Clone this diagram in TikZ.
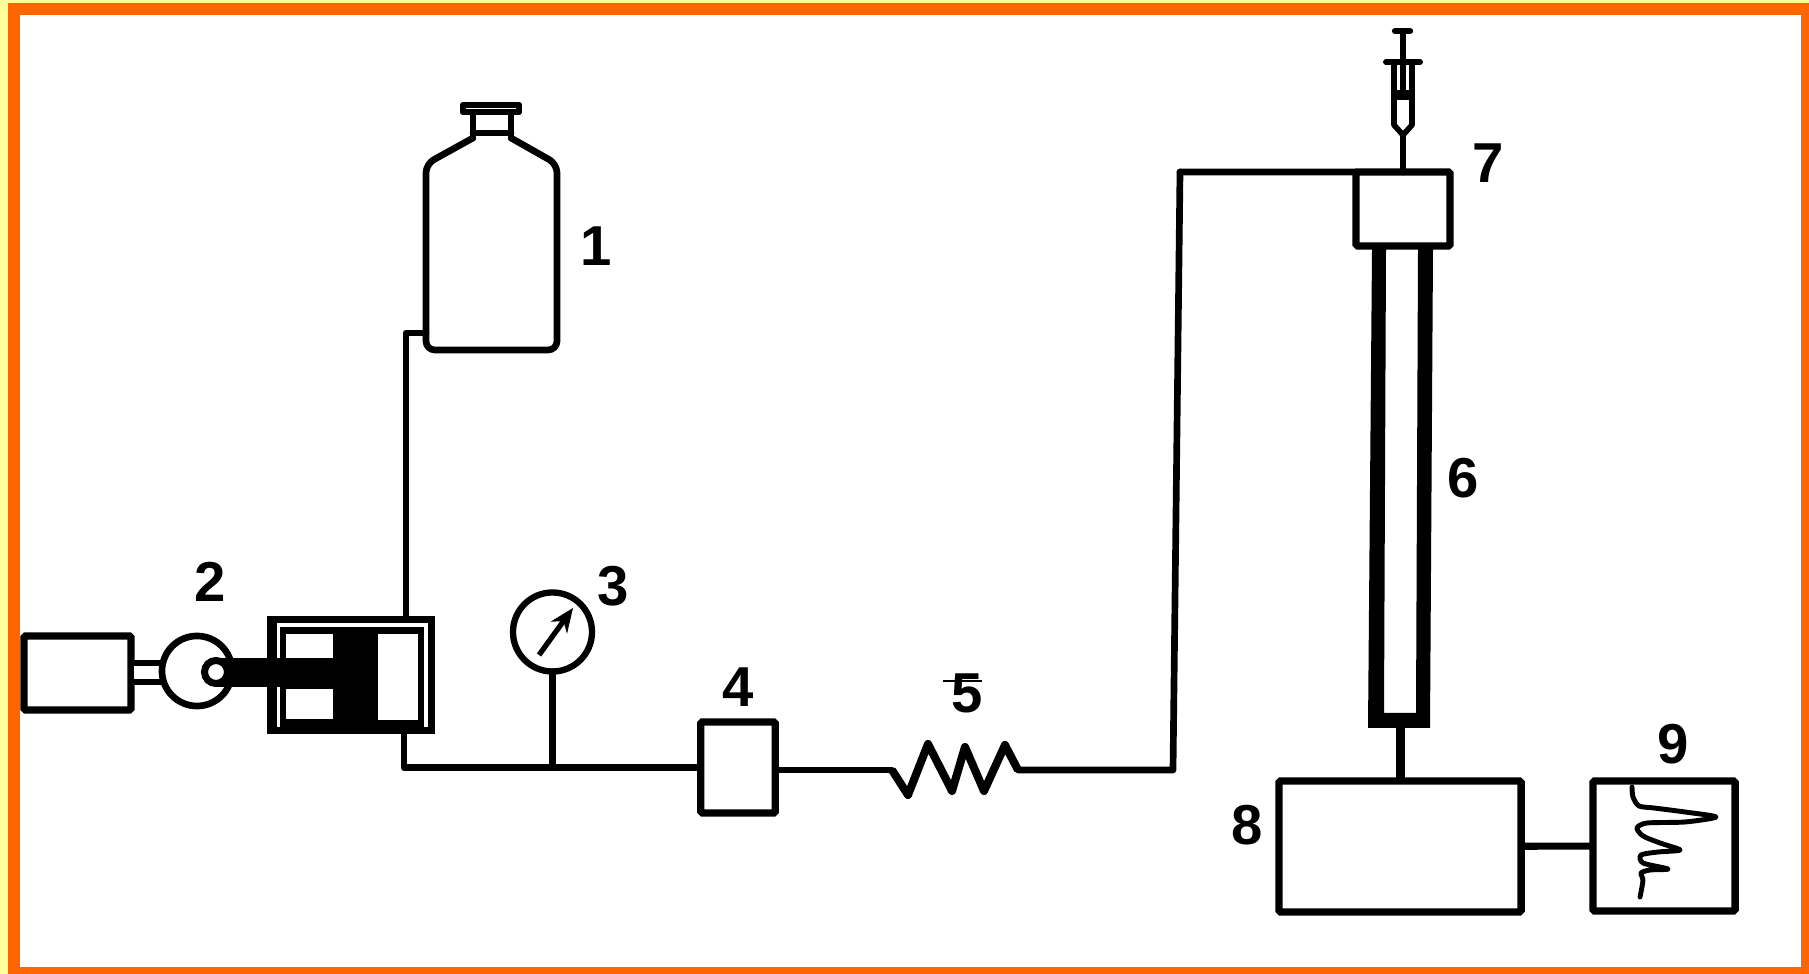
\documentclass[tikz,border=0pt]{standalone}
\usepackage{fontspec}
\setmainfont{Liberation Sans}
\usetikzlibrary{positioning,arrows.meta}
\definecolor{rimyellow}{HTML}{FFFF99}
\definecolor{rimorange}{HTML}{FF6600}
\tikzset{
  pipe/.style={line width=1.9pt,line join=round,line cap=round},
  thinpipe/.style={line width=1.6pt,line join=round,line cap=round},
  unitbox/.style={draw,line width=2.1pt,rectangle,inner sep=0pt,outer sep=0pt,rounded corners=0.5pt},
  numlabel/.style={font=\fontsize{16}{16}\selectfont\bfseries,inner sep=0pt,outer sep=0pt},
}

\begin{document}
\begin{tikzpicture}[x=0.01cm,y=-0.01cm]
  % frame
  \fill [rimyellow] (0,0) rectangle (1809,974);
  \fill [rimorange] (8,3) rectangle (1809,974);
  \fill [white] (20,15) rectangle (1801,967);
  \useasboundingbox (0,0) rectangle (1809,974);

  % pump
  \node [unitbox,minimum width=1.07cm,minimum height=0.74cm] (motor) at (77.5,673) {};
  \node [draw,line width=1.9pt,fill=white,minimum width=0.34cm,minimum height=0.19cm,inner sep=0pt] (shaft) at (148,672.5) {};
  \node [circle,draw,line width=1.9pt,fill=white,minimum size=0.70cm,inner sep=0pt] (wheel) at (197,671) {};
  \node [fill=black,minimum width=1.68cm,minimum height=1.18cm,inner sep=0pt,outer sep=0pt] (cyl) at (351,675) {};
  \fill [white] (277,623) rectangle (428,727);
  \fill (280,627) rectangle (424,734);
  \fill [white] (286,634) rectangle (333,659);
  \fill [white] (286,689) rectangle (333,719);
  \fill [white] (378,634) rectangle (418,720);
  \fill (216,658) rectangle (340,687);
  \node [circle,draw,line width=2pt,fill=white,minimum size=0.23cm,inner sep=0pt] (pin) at (216,672) {};
  \node [numlabel] (lab2) at (210,582) {2};

  % bottle
  \draw [pipe,rounded corners=2.5pt] (473,138) -- (426,164) -- (426,350) -- (557,350) -- (557,164) -- (511,138);
  \draw [pipe] (473,138) -- (473,112);
  \draw [pipe] (511,138) -- (511,112);
  \draw [pipe] (473,133) -- (511,133);
  \draw [pipe,fill=white] (463,105) rectangle (519,112);
  \node [numlabel] (lab1) at (596,246) {1};
  \coordinate (bottle_helper) at (426,333);    % helper
  \coordinate (cyl_top_helper) at (406,616);   % helper
  \draw [pipe] (cyl_top_helper) |- (bottle_helper);

  % gauge
  \node [circle,draw,line width=1.8pt,minimum size=0.79cm,inner sep=0pt,outer sep=0pt] (gauge) at (552.5,632) {};
  \node [numlabel] (lab3) at (613,586) {3};
  \coordinate (needle_a) at (539,655);
  \coordinate (needle_b) at (573,608);
  \draw [line width=1.5pt,-{Stealth[length=0.24cm,width=0.2cm]}] (needle_a) -- (needle_b);

  % lower line
  \node [unitbox,minimum width=0.745cm,minimum height=0.91cm] (filter) at (738,767.5) {};
  \node [numlabel,above=0.15cm of filter] (lab4) {4};
  \coordinate (cyl_foot_helper) at (404,734);  % helper
  \coordinate (tee) at (gauge.south |- filter.west);
  \draw [pipe] (cyl_foot_helper) |- (filter.west);
  \draw [pipe] (gauge.south) -- (tee);

  % coil
  \coordinate (coil_in) at (892,770);
  \coordinate (coil_out) at (1018,770);
  \coordinate (bend_low) at (1173,770);
  \coordinate (bend_high) at (1180,172);
  \draw [pipe] (filter.east |- coil_in) -- (coil_in);
  \draw [line width=2.3pt,line join=round] (coil_in) -- (908,795) -- (928,744) -- (952,791)
    -- (965,747) -- (984,791) -- (1005,745) -- (coil_out);
  \draw [pipe] (coil_out) -- (bend_low) -- (bend_high);
  \node [numlabel] (lab5) at (967,693) {5};
  \draw [line width=0.5pt] (943,681) -- (982,681);

  % column with injector
  \node [unitbox,minimum width=0.94cm,minimum height=0.74cm] (inlet) at (1403,209) {};
  \node [numlabel,right=0.22cm of inlet,yshift=0.46cm] (lab7) {7};
  \draw [pipe] (bend_high) -- (inlet.north west);
  \fill (1372,249) -- (1368,728) -- (1430,728) -- (1433,249) -- (1418,249)
    -- (1416,713) -- (1384,713) -- (1386,249) -- cycle;
  \node [numlabel] (lab6) at (1463,478) {6};

  \draw [line width=1.8pt,line cap=round] (1395,31) -- (1410,31);
  \draw [line width=1.7pt,line cap=round] (1386,62) -- (1420,62);
  \draw [thinpipe] (1403,31) -- (1403,95);
  \draw [thinpipe] (1394,62) -- (1394,125) -- (1403,135) -- (1412,125) -- (1412,62);
  \fill (1394,90) rectangle (1412,100);
  \coordinate (inj_tip) at (1403,135);
  \draw [pipe] (inj_tip) -- (inlet.north);

  % detector and recorder
  \node [unitbox,minimum width=2.42cm,minimum height=1.31cm] (det) at (1400,846.5) {};
  \node [unitbox,minimum width=1.42cm,minimum height=1.30cm] (rec) at (1664,846) {};
  \node [numlabel,left=0.16cm of det,yshift=0.215cm] (lab8) {8};
  \node [numlabel,above=0.17cm of rec,xshift=0.09cm] (lab9) {9};
  \coordinate (col_foot) at (1400.5,728);
  \draw [line width=2.3pt] (col_foot) -- (det.north -| col_foot);
  \draw [line width=2pt] (det) -- (rec);

  % trace
  \draw [line width=1.4pt,line join=round,line cap=round] plot [smooth,tension=0.45] coordinates {
    (1632,787) (1633,797) (1639,806) (1654,808) (1685,812) (1716,817) (1685,822) (1647,823)
    (1637,828) (1643,836) (1660,843) (1680,850) (1658,852) (1641,855) (1643,863) (1668,869)
    (1650,870) (1641,873) (1643,880) (1640,897)};
\end{tikzpicture}
\end{document}
